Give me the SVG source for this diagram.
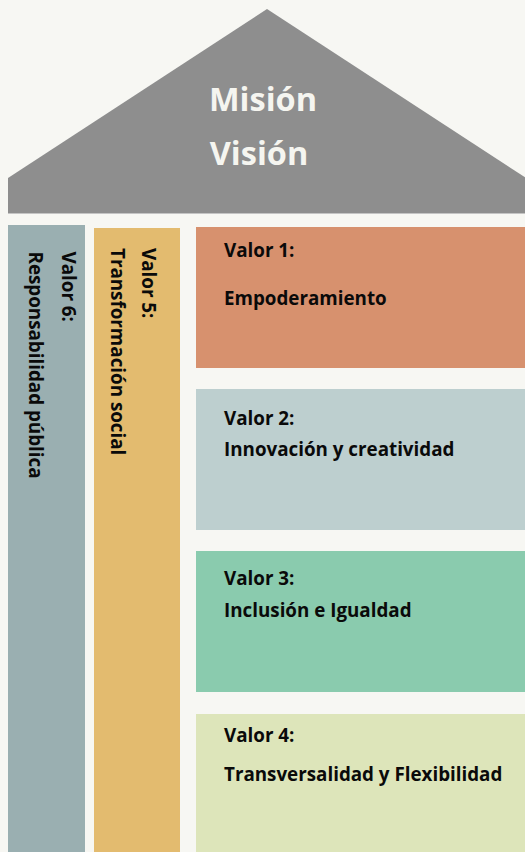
<svg xmlns="http://www.w3.org/2000/svg" width="525" height="852" viewBox="0 0 525 852">
<style>
.v{font-family:"Open Sans","Noto Sans","Liberation Sans",sans-serif;font-weight:700;font-size:18.8px;fill:#0a0a0a}
.t{font-family:"Open Sans","Noto Sans","Liberation Sans",sans-serif;font-weight:700;font-size:32.5px;fill:#f5f5f0;text-anchor:middle}
</style>
<rect x="0" y="0" width="525" height="852" fill="#f7f7f3"/>
<g id="roof">
<polygon points="267,9 526,178 526,213 8,213 8,178" fill="#8e8e8e"/>
<line x1="8" y1="213.5" x2="525" y2="213.5" stroke="#c4c4c4" stroke-width="1"/>
<text class="t" x="263" y="111">Misión</text>
<text class="t" x="259" y="165">Visión</text>
</g>
<g id="valor6">
<rect x="8" y="225" width="77" height="627" fill="#9aafb1"/>
<text class="v" transform="translate(62,251.5) rotate(90)">Valor 6:</text>
<text class="v" transform="translate(28.8,251.5) rotate(90)">Responsabilidad pública</text>
</g>
<g id="valor5">
<rect x="94" y="228" width="86" height="624" fill="#e3bb6f"/>
<text class="v" transform="translate(142,248) rotate(90)">Valor 5:</text>
<text class="v" transform="translate(110.5,248) rotate(90)">Transformación social</text>
</g>
<g id="valor1">
<rect x="196" y="227" width="329" height="141" fill="#d7916e"/>
<text class="v" x="224" y="257">Valor 1:</text>
<text class="v" x="224" y="305">Empoderamiento</text>
</g>
<g id="valor2">
<rect x="196" y="389" width="329" height="141" fill="#bdcfcf"/>
<text class="v" x="224" y="425">Valor 2:</text>
<text class="v" x="224" y="456">Innovación y creatividad</text>
</g>
<g id="valor3">
<rect x="196" y="551" width="329" height="141" fill="#8acbae"/>
<text class="v" x="224" y="585">Valor 3:</text>
<text class="v" x="224" y="617">Inclusión e Igualdad</text>
</g>
<g id="valor4">
<rect x="196" y="714" width="329" height="138" fill="#dde5ba"/>
<text class="v" x="224" y="742">Valor 4:</text>
<text class="v" x="224" y="781">Transversalidad y Flexibilidad</text>
</g>
<g id="connectors"></g>
</svg>
